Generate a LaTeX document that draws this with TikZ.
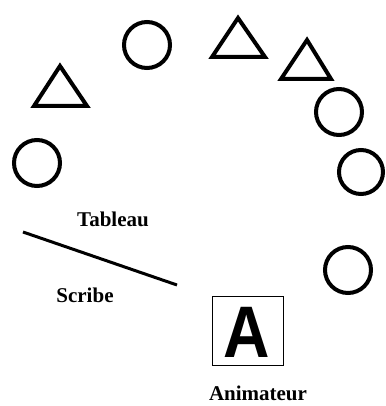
\documentclass[tikz,border=0pt]{standalone}
\usepackage{fontspec}
\setmainfont{Liberation Serif}
\newfontfamily\bigsans{Liberation Sans}
\begin{document}
\begin{tikzpicture}[x=1pt,y=-1pt,
  seat/.style={draw=black,line width=4pt,circle,minimum size=46pt,inner sep=0pt},
  tri/.style={draw=black,line width=4pt,line join=miter},
  lbl/.style={font=\bfseries\fontsize{21}{24}\selectfont,inner sep=0pt}]
\useasboundingbox (0,0) rectangle (385,406);
% circles
\node[seat] (c1) at (147,45) {};
\node[seat] (c2) at (37,163) {};
\node[seat] (c3) at (339,112) {};
\node[seat,minimum size=44pt] (c4) at (361,172) {};
\node[seat] (c5) at (348,270) {};
% triangles
\draw[tri] (212,57) -- (238,18) -- (265,57) -- cycle;
\draw[tri] (281,79) -- (307,40) -- (331,79) -- cycle;
\draw[tri] (34,106) -- (60,66) -- (87,106) -- cycle;
% tableau line
\coordinate (t1) at (23,232);
\coordinate (t2) at (177,285);
\draw[line width=3pt] (t1) -- (t2);
% labels
\node[lbl] (tab) at (113,219) {Tableau};
\node[lbl] (scr) at (85,295) {Scribe};
\node[draw=black,line width=1pt,minimum width=71pt,minimum height=69pt,inner sep=0pt] (box) at (247.5,330.5) {};
\node[inner sep=0pt,xscale=0.88,font=\bigsans\bfseries\fontsize{73}{75}\selectfont] (A) at (247,332) {A};
\node[lbl] (anim) at (258,393) {Animateur};
\end{tikzpicture}
\end{document}
